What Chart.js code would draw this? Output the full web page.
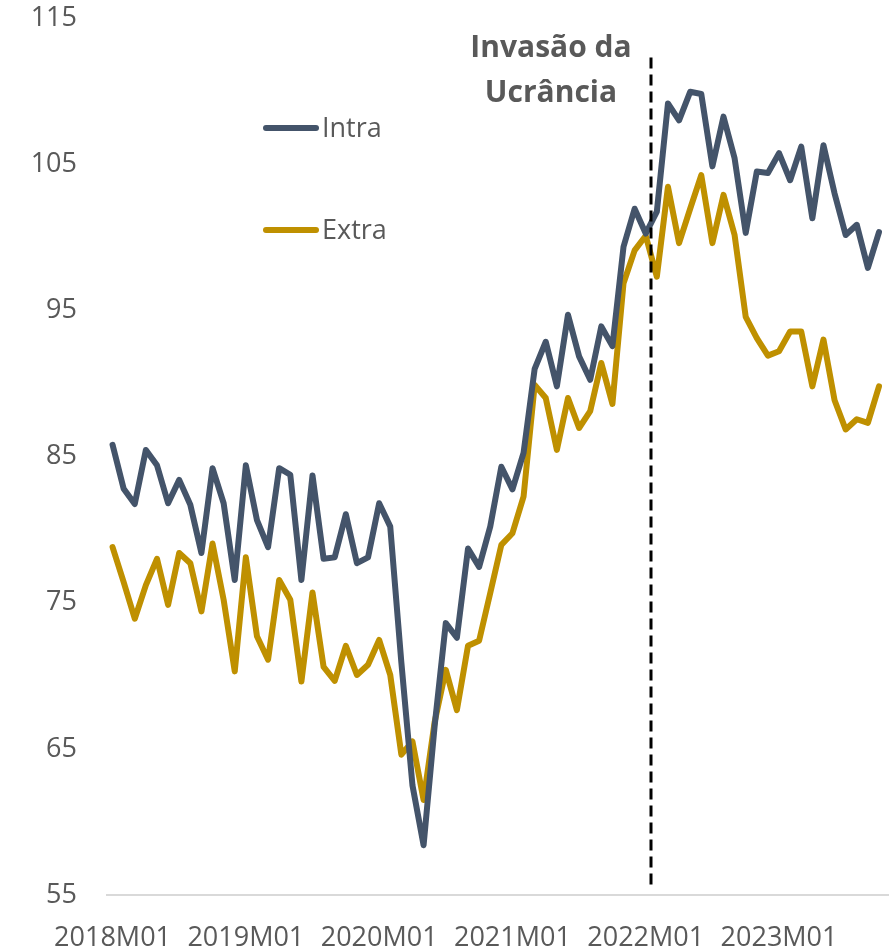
<!DOCTYPE html>
<html>
<head>
<meta charset="utf-8">
<script src="https://cdn.jsdelivr.net/npm/chart.js@4.4.1/dist/chart.umd.min.js"></script>
<style>
  html, body { margin: 0; background: #fff; }
  canvas { display: block; }
</style>
</head>
<body>
<canvas id="tradeChart" width="889" height="950"></canvas>
<script>
// ---- dados ----
const months = [
  '2018M01','2018M02','2018M03','2018M04','2018M05','2018M06','2018M07','2018M08','2018M09','2018M10','2018M11','2018M12',
  '2019M01','2019M02','2019M03','2019M04','2019M05','2019M06','2019M07','2019M08','2019M09','2019M10','2019M11','2019M12',
  '2020M01','2020M02','2020M03','2020M04','2020M05','2020M06','2020M07','2020M08','2020M09','2020M10','2020M11','2020M12',
  '2021M01','2021M02','2021M03','2021M04','2021M05','2021M06','2021M07','2021M08','2021M09','2021M10','2021M11','2021M12',
  '2022M01','2022M02','2022M03','2022M04','2022M05','2022M06','2022M07','2022M08','2022M09','2022M10','2022M11','2022M12',
  '2023M01','2023M02','2023M03','2023M04','2023M05','2023M06','2023M07','2023M08','2023M09','2023M10'
];
const tickLabels = ['2018M01', '2019M01', '2020M01', '2021M01', '2022M01', '2023M01'];

const intra = [
  85.8, 82.8, 81.75, 85.45, 84.4, 81.8, 83.4, 81.7, 78.4, 84.2, 81.8, 76.55,
  84.4, 80.65, 78.8, 84.2, 83.75, 76.55, 83.7, 78.0, 78.1, 81.05, 77.7, 78.1,
  81.8, 80.2, 70.9, 62.5, 58.4, 66.6, 73.6, 72.6, 78.7, 77.45, 80.2, 84.3,
  82.75, 85.25, 91.0, 92.85, 89.8, 94.7, 91.85, 90.25, 93.9, 92.55, 99.35, 101.95,
  100.25, 101.75, 109.15, 108.0, 109.95, 109.8, 104.85, 108.25, 105.4, 100.3, 104.5, 104.4,
  105.75, 103.9, 106.2, 101.3, 106.3, 103.0, 100.15, 100.85, 97.9, 100.35
];
const extra = [
  78.8, 76.4, 73.9, 76.2, 78.0, 74.85, 78.4, 77.7, 74.4, 79.05, 75.2, 70.3,
  78.1, 72.7, 71.1, 76.55, 75.2, 69.6, 75.7, 70.6, 69.65, 72.05, 70.05, 70.75,
  72.45, 70.05, 64.6, 65.5, 61.5, 66.85, 70.4, 67.65, 72.05, 72.4, 75.65, 78.95,
  79.75, 82.25, 89.9, 89.0, 85.45, 89.0, 86.95, 88.1, 91.4, 88.6, 96.85, 99.1,
  100.1, 97.3, 103.45, 99.6, 101.95, 104.25, 99.6, 102.9, 100.15, 94.55, 93.1, 91.9,
  92.2, 93.55, 93.55, 89.8, 93.0, 88.85, 86.85, 87.55, 87.3, 89.8
];

const seriesNames = ['Intra', 'Extra'];
const seriesColors = ['#44546A', '#BF9000'];
const annotationText = ['Invasão da', 'Ucrância'];
const invasionAt = 48.5;   // entre 2022M01 e 2022M02
const yMin = 55, yMax = 115, yStep = 10;

const textGrey = '#595959';
const FONT = "'Open Sans', sans-serif";

// legenda + linha da invasão desenhadas à mão
const extrasPlugin = {
  id: 'extras',
  afterDatasetsDraw(chart) {
    const { ctx, scales: { x, y } } = chart;
    ctx.save();

    // linha tracejada vertical
    const lx = Math.round(x.getPixelForValue(invasionAt));
    ctx.strokeStyle = '#000';
    ctx.lineWidth = 3;
    ctx.setLineDash([11, 6]);
    ctx.beginPath();
    ctx.moveTo(lx, y.getPixelForValue(112.3));
    ctx.lineTo(lx, y.getPixelForValue(55.5));
    ctx.stroke();
    ctx.setLineDash([]);

    // anotação
    ctx.fillStyle = textGrey;
    ctx.font = `bold 30px ${FONT}`;
    ctx.textAlign = 'center';
    ctx.textBaseline = 'alphabetic';
    ctx.fillText(annotationText[0], 551, 57);
    ctx.fillText(annotationText[1], 551, 102);

    // legenda
    const rows = [128, 230];
    ctx.font = `27px ${FONT}`;
    ctx.textAlign = 'left';
    ctx.textBaseline = 'middle';
    ctx.lineCap = 'round';
    seriesNames.forEach((name, i) => {
      ctx.strokeStyle = seriesColors[i];
      ctx.lineWidth = 6;
      ctx.beginPath();
      ctx.moveTo(266, rows[i]);
      ctx.lineTo(316, rows[i]);
      ctx.stroke();
      ctx.fillStyle = textGrey;
      ctx.fillText(name, 322, rows[i] + 1);
    });

    ctx.restore();
  }
};

const toPoints = arr => arr.map((v, i) => ({ x: i, y: v }));

new Chart(document.getElementById('tradeChart'), {
  type: 'line',
  data: {
    datasets: [
      { label: seriesNames[0], data: toPoints(intra), borderColor: seriesColors[0], borderWidth: 6, pointRadius: 0, tension: 0, borderJoinStyle: 'round', borderCapStyle: 'round' },
      { label: seriesNames[1], data: toPoints(extra), borderColor: seriesColors[1], borderWidth: 6, pointRadius: 0, tension: 0, borderJoinStyle: 'round', borderCapStyle: 'round' }
    ]
  },
  options: {
    responsive: false,
    animation: false,
    devicePixelRatio: 1,
    layout: { padding: { top: 18, right: 0, bottom: 0, left: 0 } },
    plugins: { legend: { display: false }, tooltip: { enabled: false } },
    scales: {
      x: {
        type: 'linear',
        min: -0.5,
        max: 69.9,
        grid: { display: false, drawTicks: false },
        border: { display: true, color: '#d9d9d9', width: 2 },
        afterBuildTicks: scale => { scale.ticks = tickLabels.map(t => ({ value: months.indexOf(t) })); },
        afterFit: scale => { scale.height = 55; scale.paddingLeft = 0; scale.paddingRight = 0; },
        ticks: {
          autoSkip: false,
          maxRotation: 0,
          padding: 27,
          color: textGrey,
          font: { family: FONT, size: 27 },
          callback: v => months[v]
        }
      },
      y: {
        min: yMin,
        max: yMax,
        grid: { display: false, drawTicks: false },
        border: { display: false },
        afterFit: scale => { scale.width = 107; scale.paddingTop = 0; scale.paddingBottom = 0; },
        ticks: {
          stepSize: yStep,
          padding: 30,
          color: textGrey,
          font: { family: FONT, size: 27 }
        }
      }
    }
  },
  plugins: [extrasPlugin]
});
</script>
</body>
</html>
